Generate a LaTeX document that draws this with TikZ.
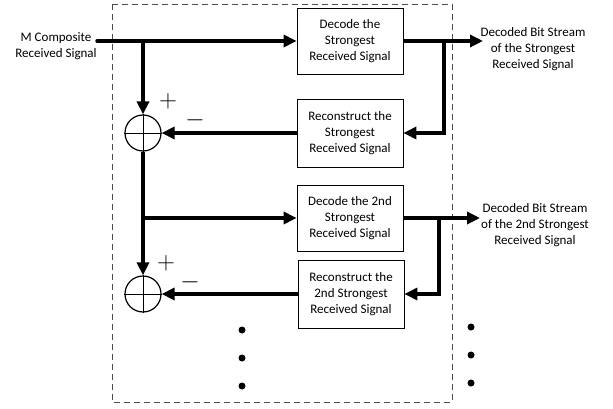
\documentclass[tikz,border=0pt]{standalone}
\usepackage{fontspec}
\setmainfont{Carlito}
\usetikzlibrary{positioning,arrows.meta}

\tikzset{
  block/.style={rectangle, draw, line width=0.8pt, minimum width=106pt, minimum height=66pt, align=center, inner sep=2pt, font=\fontsize{13}{16}\selectfont},
  adder/.style={circle, draw, line width=1.2pt, minimum size=36pt, inner sep=0pt},
  sig/.style={line width=3.5pt, -{Triangle[length=13pt,width=12pt]}},
  lbl/.style={align=center, font=\fontsize{13}{16}\selectfont},
  outlbl/.style={align=center, font=\fontsize{13}{16}\selectfont},
  sign/.style={font=\fontsize{26}{26}\selectfont, inner sep=0pt},
  dotmark/.style={circle, fill, inner sep=0pt, minimum size=7pt},
}

\begin{document}
\begin{tikzpicture}[x=1pt, y=1pt]
        \useasboundingbox (0,0) rectangle (613,408);
        \draw[dashed, line width=0.8pt, dash pattern=on 6pt off 4pt, black!70] (112,404) rectangle (452,6);

        % blocks
        \node[block] (dec1) at (350,367) {Decode the\\Strongest\\Received Signal};
        \node[block, minimum height=68pt] (rec1) at (350,275) {Reconstruct the\\Strongest\\Received Signal};
        \node[block] (dec2) at (350,190) {Decode the 2nd\\Strongest\\Received Signal};
        \node[block, minimum height=68pt] (rec2) at (351,114) {Reconstruct the\\2nd Strongest\\Received Signal};

        % adders
        \node[adder] (add1) at (143,275) {};
        \node[adder] (add2) at (143,114) {};
        \draw[line width=1pt] (add1.north) -- (add1.south) (add1.west) -- (add1.east);
        \draw[line width=1pt] (add2.north) -- (add2.south) (add2.west) -- (add2.east);
        \node[sign] (plus1) at (168,307) {$+$};
        \node[sign] (minus1) at (195,288) {$-$};
        \node[sign] (plus2) at (166,145) {$+$};
        \node[sign] (minus2) at (190,126) {$-$};

        % labels
        \node[lbl] (input) at (56,362) {M Composite\\Received Signal};
        \node[outlbl] (out1) at (533,359) {Decoded Bit Stream\\of the Strongest\\Received Signal};
        \node[outlbl] (out2) at (535,183) {Decoded Bit Stream\\of the 2nd Strongest\\Received Signal};

        \coordinate (in) at (97,367);
        \coordinate (split1) at (143,367);
        \coordinate (split2) at (143,190);
        \coordinate (tap1) at (444,367);
        \coordinate (tap2) at (439,190);
        \coordinate (end1) at (483,367);
        \coordinate (end2) at (480,190);

        % connectors
        \draw[sig, line cap=round] (in) -- (dec1.west);
        \draw[sig] (split1) -- (add1.north);
        \draw[sig] (dec1.east) -- (end1);
        \draw[sig] (tap1) |- (rec1.east);
        \draw[sig] (rec1.west) -- (add1.east);
        \draw[sig] (add1.south) -- (add2.north);
        \draw[sig] (split2) -- (dec2.west);
        \draw[sig] (dec2.east) -- (end2);
        \draw[sig] (tap2) |- (rec2.east);
        \draw[sig] (rec2.west) -- (add2.east);

        % dots
        \foreach \y [count=\i] in {78,50,22} {
          \node[dotmark] (ldot\i) at (242,\y) {};
        }
        \foreach \y [count=\i] in {81,53,25} {
          \node[dotmark] (rdot\i) at (471,\y) {};
        }
      \end{tikzpicture}
\end{document}
